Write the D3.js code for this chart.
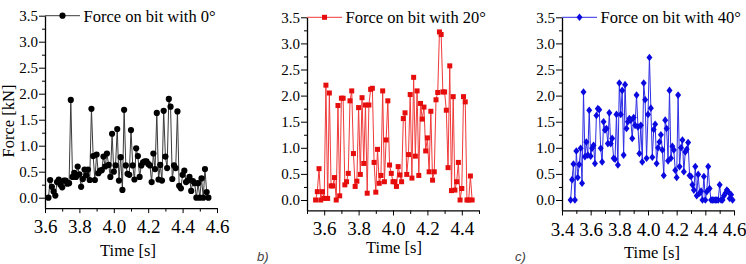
<!DOCTYPE html>
<html>
<head>
<meta charset="utf-8">
<script src="https://cdn.jsdelivr.net/npm/d3@7"></script>
<style>
  body { margin: 0; background: #fff; }
</style>
</head>
<body>
<svg id="chart" width="746" height="264"></svg>
<script>
// Force on bit with 0 degrees
const timesA = [3.62,3.63,3.64,3.65,3.66,3.67,3.68,3.69,3.70,3.71,3.72,3.73,3.74,3.75,3.76,3.77,3.78,3.79,3.80,3.81,
  3.82,3.83,3.84,3.85,3.86,3.87,3.88,3.89,3.90,3.91,3.92,3.93,3.94,3.95,3.96,3.97,3.98,3.99,4.00,4.01,
  4.02,4.03,4.04,4.05,4.06,4.07,4.08,4.09,4.10,4.11,4.12,4.13,4.14,4.15,4.16,4.17,4.18,4.19,4.20,4.21,
  4.22,4.23,4.24,4.25,4.26,4.27,4.28,4.29,4.30,4.31,4.32,4.33,4.34,4.35,4.36,4.37,4.38,4.39,4.40,4.41,
  4.42,4.43,4.44,4.45,4.46,4.47,4.48,4.49,4.50,4.51,4.52,4.53,4.54,4.55];
const forceA = [0.00,0.34,0.21,0.12,0.04,0.30,0.35,0.25,0.20,0.33,0.33,0.27,0.28,1.88,0.40,0.48,0.40,0.60,0.45,0.21,
  0.36,0.54,0.43,0.54,0.34,1.71,0.80,0.34,0.83,0.47,0.52,0.53,0.79,0.60,0.85,0.63,0.40,1.23,0.50,0.62,
  1.32,0.33,0.78,0.15,1.69,0.62,0.46,0.44,1.30,0.62,0.35,0.95,0.80,0.40,0.62,0.68,0.70,0.70,0.65,0.62,
  0.30,0.85,0.55,1.63,0.35,0.63,0.33,1.67,0.79,0.57,1.90,1.75,0.36,0.62,0.57,1.66,0.23,0.18,0.44,0.52,
  0.30,0.33,0.40,0.13,0.32,0.28,0.00,0.28,0.00,0.37,0.00,0.55,0.11,0.00];

// Force on bit with 20 degrees
const timesB = [3.55,3.56,3.57,3.58,3.59,3.60,3.61,3.62,3.63,3.64,3.65,3.66,3.67,3.68,3.69,3.70,3.71,3.72,3.73,3.74,
  3.75,3.76,3.77,3.78,3.79,3.80,3.81,3.82,3.83,3.84,3.85,3.86,3.87,3.88,3.89,3.90,3.91,3.92,3.93,3.94,
  3.95,3.96,3.97,3.98,3.99,4.00,4.01,4.02,4.03,4.04,4.05,4.06,4.07,4.08,4.09,4.10,4.11,4.12,4.13,4.14,
  4.15,4.16,4.17,4.18,4.19,4.20,4.21,4.22,4.23,4.24,4.25,4.26,4.27,4.28,4.29,4.30,4.31,4.32,4.33,4.34,
  4.35,4.36,4.37,4.38,4.39,4.40,4.41,4.42,4.43,4.44,4.45,4.46];
const forceB = [0.00,0.16,0.60,0.00,0.16,0.03,2.20,0.03,2.05,0.27,0.27,0.43,0.00,1.81,0.08,1.95,1.95,0.29,0.35,0.51,
  1.90,2.09,0.89,0.26,0.36,1.77,0.49,1.96,0.70,1.82,0.13,1.82,2.12,2.14,0.72,0.15,0.97,0.32,0.47,2.09,
  0.35,1.15,1.90,0.67,0.51,0.35,0.35,0.26,0.64,0.48,0.35,1.56,1.67,0.49,0.87,2.02,0.42,2.35,0.84,2.09,
  0.47,1.85,1.55,1.78,0.94,1.19,0.54,1.70,0.38,0.54,1.92,2.06,3.22,3.17,2.07,2.07,1.72,0.62,2.57,0.18,
  1.98,0.19,0.35,0.72,0.00,0.22,1.98,1.88,0.00,0.00,0.46,0.00];

// Force on bit with 40 degrees
const timesC = [3.46,3.47,3.48,3.49,3.50,3.51,3.52,3.53,3.54,3.55,3.56,3.57,3.58,3.59,3.60,3.61,3.62,3.63,3.64,3.65,
  3.66,3.67,3.68,3.69,3.70,3.71,3.72,3.73,3.74,3.75,3.76,3.77,3.78,3.79,3.80,3.81,3.82,3.83,3.84,3.85,
  3.86,3.87,3.88,3.89,3.90,3.91,3.92,3.93,3.94,3.95,3.96,3.97,3.98,3.99,4.00,4.01,4.02,4.03,4.04,4.05,
  4.06,4.07,4.08,4.09,4.10,4.11,4.12,4.13,4.14,4.15,4.16,4.17,4.18,4.19,4.20,4.21,4.22,4.23,4.24,4.25,
  4.26,4.27,4.28,4.29,4.30,4.31,4.32,4.33,4.34,4.35,4.36,4.37,4.38,4.39,4.40,4.41,4.42,4.43,4.44,4.45,
  4.46,4.47,4.48,4.49,4.50,4.51,4.52,4.53,4.54,4.55,4.56,4.57,4.58,4.59];
const forceC = [0.00,0.39,0.69,0.00,0.94,0.43,0.68,0.99,0.32,2.07,0.83,1.11,0.86,1.72,0.84,0.99,1.05,0.70,1.62,1.75,
  1.73,0.99,0.73,1.50,1.34,1.37,1.08,1.67,1.08,1.18,0.80,0.78,1.64,0.67,2.24,1.64,2.10,0.86,2.21,1.37,
  1.50,1.56,1.53,1.18,1.58,1.43,2.01,1.40,0.89,1.43,0.73,2.24,1.92,0.80,1.64,2.73,1.76,0.82,1.35,1.45,
  0.70,1.00,1.11,1.25,0.96,0.47,1.53,1.37,0.75,2.10,0.80,1.03,0.96,0.57,0.43,2.01,0.64,1.00,1.15,0.54,
  0.92,0.97,1.10,0.47,0.45,0.29,0.19,0.64,0.08,0.49,0.13,0.17,0.00,0.45,0.00,0.16,0.64,0.22,0.00,0.00,
  0.00,0.00,0.00,0.00,0.29,0.00,0.00,0.08,0.13,0.19,0.16,0.03,0.10,0.00];

// Axis ticks
const yMajorTicks = [0.0, 0.5, 1.0, 1.5, 2.0, 2.5, 3.0, 3.5];
const yMinorTicks = [0.25, 0.75, 1.25, 1.75, 2.25, 2.75, 3.25];
const xMajorA = [3.6, 3.8, 4.0, 4.2, 4.4, 4.6];
const xMinorA = [3.7, 3.9, 4.1, 4.3, 4.5];
const xMajorB = [3.6, 3.8, 4.0, 4.2, 4.4];
const xMinorB = [3.5, 3.7, 3.9, 4.1, 4.3, 4.5];
const xMajorC = [3.4, 3.6, 3.8, 4.0, 4.2, 4.4, 4.6];
const xMinorC = [3.5, 3.7, 3.9, 4.1, 4.3, 4.5];

const SERIF = "'Liberation Serif', 'Times New Roman', Times, serif";
const svg = d3.select("#chart");

const panels = [
  { times: timesA, force: forceA, xDomain: [3.6, 4.6], xMajor: xMajorA, xMinor: xMinorA,
    left: 45, right: 217, top: 15.7, zero: 197.7, tickY: 233, titleY: 256, titleX: 128,
    marker: "circle", color: "#000", lineColor: "#3a3a3a", legend: "Force on bit with 0°" },
  { times: timesB, force: forceB, xDomain: [3.5, 4.5], xMajor: xMajorB, xMinor: xMinorB,
    left: 307, right: 479, top: 17.3, zero: 200, tickY: 235, titleY: 253, titleX: 394,
    marker: "square", color: "#e60d0d", lineColor: "#f03a3a", legend: "Force on bit with 20°" },
  { times: timesC, force: forceC, xDomain: [3.4, 4.6], xMajor: xMajorC, xMinor: xMinorC,
    left: 562, right: 734, top: 17.3, zero: 200, tickY: 236, titleY: 258, titleX: 652,
    marker: "diamond", color: "#0a0ae0", lineColor: "#2e2ee6", legend: "Force on bit with 40°" }
];

function drawMarker(g, kind, color) {
  if (kind === "circle") {
    g.append("circle").attr("r", 3.1).attr("fill", color);
  } else if (kind === "square") {
    g.append("rect").attr("x", -2.5).attr("y", -2.5).attr("width", 5).attr("height", 5).attr("fill", color);
  } else {
    g.append("path").attr("d", "M0,-3.8L3,0L0,3.8L-3,0Z").attr("fill", color);
  }
}

panels.forEach(p => {
  const perUnit = (p.zero - p.top) / 3.5;
  const y = d3.scaleLinear().domain([-0.2, 3.5]).range([p.zero + 0.2 * perUnit, p.top]);
  const x = d3.scaleLinear().domain(p.xDomain).range([p.left, p.right]);
  const bottom = y(-0.2);

  const g = svg.append("g");

  // y axis
  const yAxis = g.append("g").attr("transform", `translate(${p.left},0)`)
    .call(d3.axisLeft(y).tickValues(yMajorTicks).tickSize(6).tickSizeOuter(0).tickPadding(1).tickFormat(d3.format(".1f")));
  yAxis.select(".domain").attr("stroke-width", 1.3);
  yAxis.selectAll("text").style("font-family", SERIF).style("font-size", "15px").attr("fill", "#000");
  g.append("g").attr("transform", `translate(${p.left},0)`)
    .call(d3.axisLeft(y).tickValues(yMinorTicks).tickSize(3).tickFormat(""))
    .select(".domain").remove();

  // x axis
  const xAxis = g.append("g").attr("transform", `translate(0,${bottom})`)
    .call(d3.axisBottom(x).tickValues(p.xMajor).tickSize(5).tickSizeOuter(0).tickFormat(d3.format(".1f")));
  xAxis.select(".domain").attr("stroke-width", 1.3);
  xAxis.selectAll("text").style("font-family", SERIF).style("font-size", "19px")
    .attr("fill", "#000").attr("dy", null).attr("y", p.tickY - bottom);
  g.append("g").attr("transform", `translate(0,${bottom})`)
    .call(d3.axisBottom(x).tickValues(p.xMinor).tickSize(3.5).tickFormat(""))
    .select(".domain").remove();

  // axis title
  g.append("text").attr("x", p.titleX).attr("y", p.titleY).attr("text-anchor", "middle")
    .style("font-family", SERIF).style("font-size", "16.5px").text("Time [s]");

  // data line and markers
  const pts = p.times.map((t, i) => [t, p.force[i]]);
  g.append("path").datum(pts)
    .attr("fill", "none").attr("stroke", p.lineColor).attr("stroke-width", 1)
    .attr("d", d3.line().x(d => x(d[0])).y(d => y(d[1])));
  g.selectAll(".pt").data(pts).enter().append("g")
    .attr("transform", d => `translate(${x(d[0])},${y(d[1])})`)
    .each(function() { drawMarker(d3.select(this), p.marker, p.color); });

  // legend
  const ly = y(3.5);
  g.append("line").attr("x1", p.left).attr("x2", p.left + 35).attr("y1", ly).attr("y2", ly)
    .attr("stroke", p.lineColor).attr("stroke-width", 1);
  drawMarker(g.append("g").attr("transform", `translate(${p.left + 17.5},${ly})`), p.marker, p.color);
  g.append("text").attr("x", p.left + 38.5).attr("y", ly + 6)
    .style("font-family", SERIF).style("font-size", "16.5px").text(p.legend);
});

// y title on first panel
svg.append("text").attr("transform", "translate(14,121) rotate(-90)").attr("text-anchor", "middle")
  .style("font-family", SERIF).style("font-size", "16.5px").text("Force [kN]");

// panel letters
svg.append("text").attr("x", 257).attr("y", 261).style("font-family", "'Liberation Sans', Arial, sans-serif")
  .style("font-style", "italic").style("font-size", "13px").attr("fill", "#444").text("b)");
svg.append("text").attr("x", 515).attr("y", 261).style("font-family", "'Liberation Sans', Arial, sans-serif")
  .style("font-style", "italic").style("font-size", "13px").attr("fill", "#444").text("c)");
</script>
</body>
</html>
